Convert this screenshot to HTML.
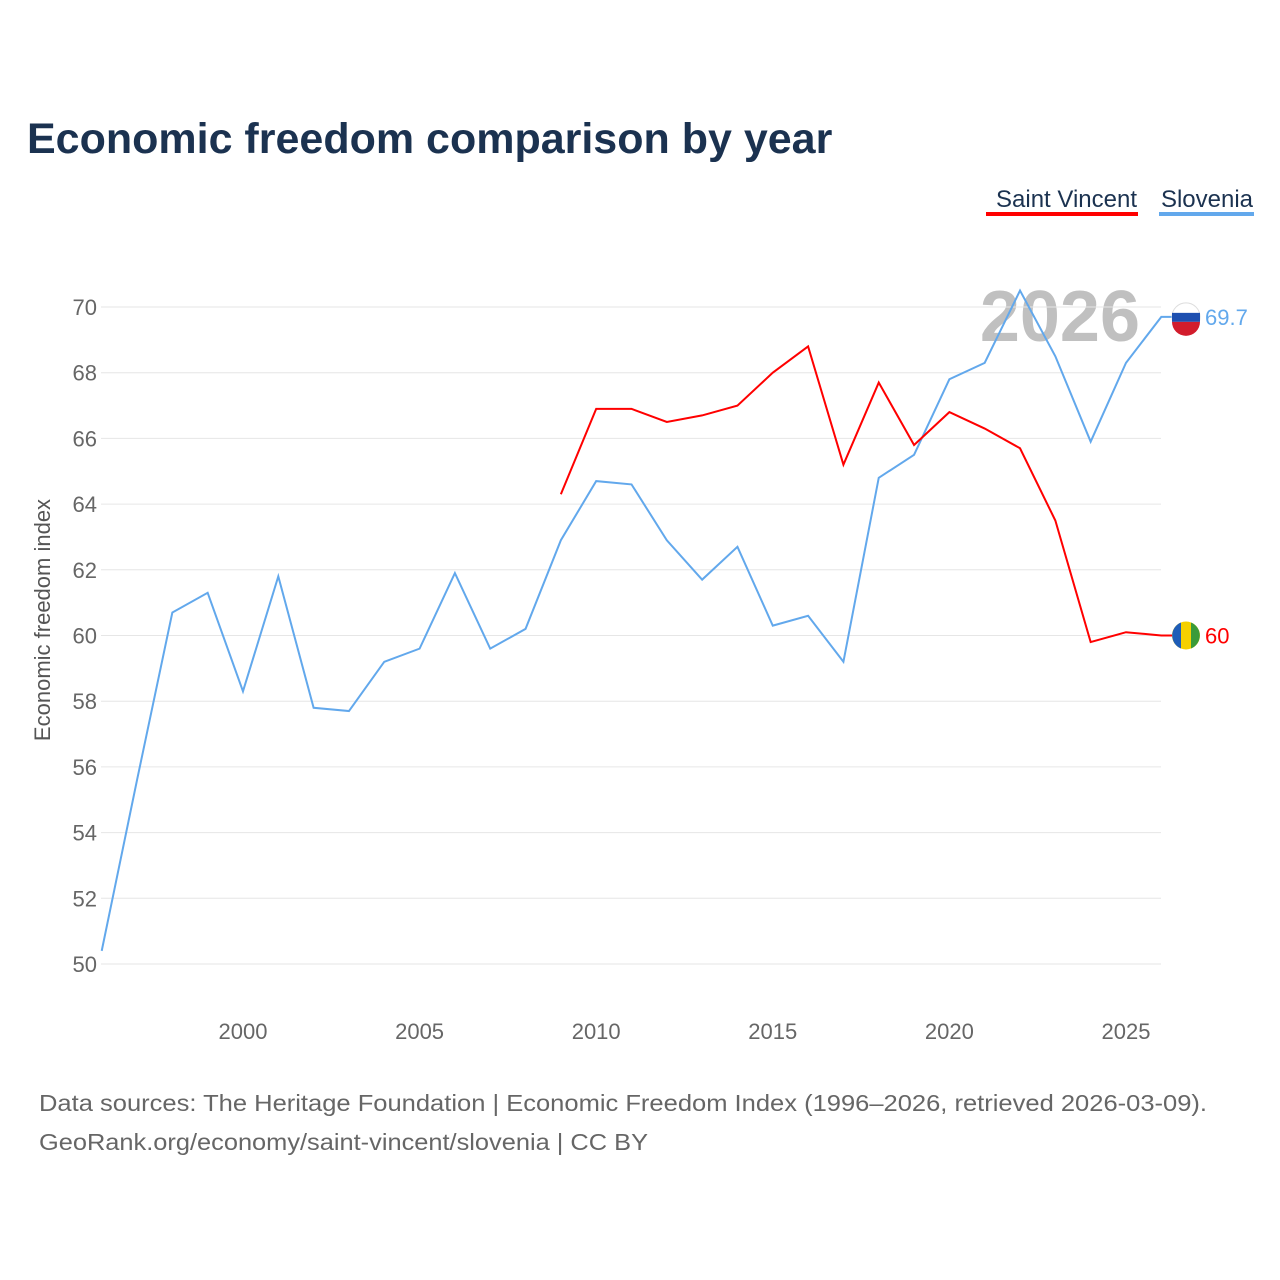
<!DOCTYPE html>
<html><head><meta charset="utf-8"><style>
body{margin:0;width:1280px;height:1280px;background:#fff;font-family:"Liberation Sans",sans-serif;overflow:hidden}
svg{position:absolute;left:0;top:0}
</style></head><body>
<svg id="chart" width="1280" height="1280">
<text x="27" y="153" font-size="43" font-weight="bold" fill="#1b3250">Economic freedom comparison by year</text>
<g><text x="1137" y="207" font-size="24" fill="#1b3250" text-anchor="end">Saint Vincent</text><rect x="986" y="212" width="152" height="4" fill="#ff0000"/></g>
<g><text x="1253" y="207" font-size="24" fill="#1b3250" text-anchor="end">Slovenia</text><rect x="1159" y="212" width="95" height="4" fill="#62a8ec"/></g>
<text x="1140" y="341" font-size="72" font-weight="bold" fill="#c0c0c0" text-anchor="end">2026</text>
<g id="grid"></g><g id="series"></g>
<text transform="translate(50,620) rotate(-90)" font-size="22" fill="#555" text-anchor="middle">Economic freedom index</text>
<text x="39" y="1111" font-size="23" fill="#666" textLength="1168" lengthAdjust="spacingAndGlyphs">Data sources: The Heritage Foundation | Economic Freedom Index (1996–2026, retrieved 2026-03-09).</text>
<text x="39" y="1150" font-size="23" fill="#666" textLength="609" lengthAdjust="spacingAndGlyphs">GeoRank.org/economy/saint-vincent/slovenia | CC BY</text>
</svg>
<script>
const years=[1996,1997,1998,1999,2000,2001,2002,2003,2004,2005,2006,2007,2008,2009,2010,2011,2012,2013,2014,2015,2016,2017,2018,2019,2020,2021,2022,2023,2024,2025,2026];
const slovenia=[50.4,55.6,60.7,61.3,58.3,61.8,57.8,57.7,59.2,59.6,61.9,59.6,60.2,62.9,64.7,64.6,62.9,61.7,62.7,60.3,60.6,59.2,64.8,65.5,67.8,68.3,70.5,68.5,65.9,68.3,69.7];
const svYears=[2009,2010,2011,2012,2013,2014,2015,2016,2017,2018,2019,2020,2021,2022,2023,2024,2025,2026];
const saintVincent=[64.3,66.9,66.9,66.5,66.7,67.0,68.0,68.8,65.2,67.7,65.8,66.8,66.3,65.7,63.5,59.8,60.1,60.0];
const yTicks=[50,52,54,56,58,60,62,64,66,68,70];
const xTicks=[2000,2005,2010,2015,2020,2025];
const NS="http://www.w3.org/2000/svg";
const xs=y=>101.7+(y-1996)*35.32;
const ys=v=>964-(v-50)*32.85;
function mk(t,a,p){const e=document.createElementNS(NS,t);for(const k in a)e.setAttribute(k,a[k]);p.appendChild(e);return e;}
const g=document.getElementById('grid'),s=document.getElementById('series');
yTicks.forEach(v=>{const l=mk('line',{x1:101,x2:1161,y1:ys(v),y2:ys(v),stroke:'#e6e6e6','stroke-width':1},g);


const t=mk('text',{x:97,y:ys(v)+8,'font-size':22,fill:'#666','text-anchor':'end'},g);t.textContent=v;

});
xTicks.forEach(v=>{const t=mk('text',{x:xs(v),y:1039,'font-size':22,fill:'#666','text-anchor':'middle'},g);t.textContent=v;

});
function line(xv,yv,c,name){const pts=xv.map((x,i)=>xs(x)+','+ys(yv[i]));pts.push('1172,'+ys(yv[yv.length-1]));
const p=mk('polyline',{points:pts.join(' '),fill:'none',stroke:c,'stroke-width':2},s);

}
line(years,slovenia,'#62a8ec','slovenia-line');
line(svYears,saintVincent,'#ff0000','saint-vincent-line');
function endLabel(v,c,name,flag){const y=ys(v);
const f=mk('g',{},s);


if(flag==='si'){mk('circle',{cx:1186,cy:y,r:14,fill:'#fff',stroke:'#ddd','stroke-width':1},f);mk('rect',{x:1172,y:y-4,width:28,height:9,fill:'#1d4fb0'},f);mk('path',{d:`M1172 ${y+5} H1200 A14 14 0 0 1 1172 ${y+5}Z`,fill:'#d21c2c'},f);}
else{mk('circle',{cx:1186,cy:y,r:14,fill:'#f5d000'},f);mk('path',{d:`M1181 ${y-13} A14 14 0 0 0 1181 ${y+13}Z`,fill:'#1e5db8'},f);mk('path',{d:`M1191 ${y-13} A14 14 0 0 1 1191 ${y+13}Z`,fill:'#3a9b3a'},f);}
const t=mk('text',{x:1205,y:y+8,'font-size':22,fill:c},s);t.textContent=v;

}
endLabel(slovenia[slovenia.length-1],'#62a8ec','slovenia','si');
endLabel(saintVincent[saintVincent.length-1],'#ff0000','saint-vincent','vc');
</script>
</body></html>
